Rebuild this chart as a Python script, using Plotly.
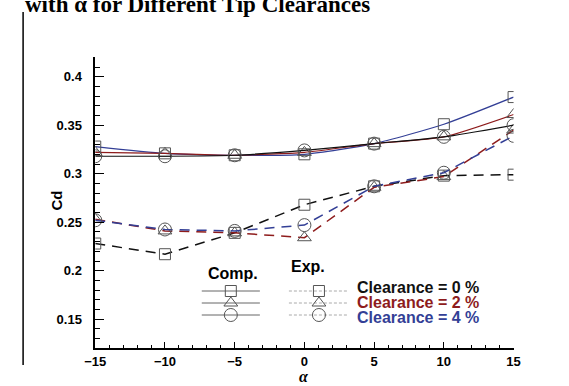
import plotly.graph_objects as go

# Angle of attack (deg)
alpha = [-15, -10, -5, 0, 5, 10, 15]

# Computed drag coefficient, one series per tip clearance
comp_c0 = [0.318, 0.318, 0.319, 0.324, 0.331, 0.338, 0.350]
comp_c2 = [0.322, 0.321, 0.319, 0.322, 0.331, 0.338, 0.361]
comp_c4 = [0.328, 0.321, 0.319, 0.320, 0.331, 0.351, 0.379]

# Experimental drag coefficient
exp_c0 = [0.228, 0.217, 0.239, 0.268, 0.287, 0.298, 0.299]
exp_c2 = [0.253, 0.241, 0.239, 0.234, 0.286, 0.297, 0.345]
exp_c4 = [0.252, 0.2425, 0.241, 0.247, 0.287, 0.301, 0.339]

x_ticks = [-15, -10, -5, 0, 5, 10, 15]
y_ticks = [0.15, 0.2, 0.25, 0.3, 0.35, 0.4]

legend_texts = ["Clearance = 0 %", "Clearance = 2 %", "Clearance = 4 %"]

W, H = 569, 386
BLACK = "#111111"
RED = "#8e1c1c"
BLUE = "#333f96"
MARK = "#555555"
SANS = "Liberation Sans, Arial, sans-serif"
SERIF = "Liberation Serif, Times New Roman, serif"

fig = go.Figure()


def add_series(y, color, symbol, dashed, size):
    fig.add_trace(go.Scatter(
        x=alpha, y=y, mode="lines+markers",
        line=dict(color=color, width=1.5 if dashed else 1.2,
                  dash="10px,7px" if dashed else "solid",
                  shape="linear" if dashed else "spline", smoothing=0.6),
        marker=dict(symbol=symbol, size=size, color=MARK,
                    line=dict(color=MARK, width=1)),
        showlegend=False, hoverinfo="x+y",
    ))


add_series(exp_c0, BLACK, "square-open", True, 11)
add_series(exp_c2, RED, "triangle-up-open", True, 12)
add_series(exp_c4, BLUE, "circle-open", True, 13)
add_series(comp_c4, BLUE, "square-open", False, 11)
add_series(comp_c2, RED, "triangle-up-open", False, 12)
add_series(comp_c0, BLACK, "circle-open", False, 13)

# Legend key drawn in a pixel-space overlay
key_rows = [291, 303, 315]
key_syms = ["square-open", "triangle-up-open", "circle-open"]
key_sizes = [11, 12, 13]
for yy, sym, sz in zip(key_rows, key_syms, key_sizes):
    fig.add_trace(go.Scatter(
        x=[197, 257], y=[yy, yy], xaxis="x2", yaxis="y2", mode="lines",
        line=dict(color="#666666", width=1), showlegend=False, hoverinfo="skip"))
    fig.add_trace(go.Scatter(
        x=[287, 347], y=[yy, yy], xaxis="x2", yaxis="y2", mode="lines",
        line=dict(color="#aaaaaa", width=1, dash="3px,2px"), showlegend=False,
        hoverinfo="skip"))
    fig.add_trace(go.Scatter(
        x=[227, 318], y=[yy, yy], xaxis="x2", yaxis="y2", mode="markers",
        marker=dict(symbol=sym, size=sz, color=MARK, line=dict(color=MARK, width=1)),
        showlegend=False, hoverinfo="skip"))

annotations = [
    dict(text="<b>with α for Different Tip Clearances</b>", x=12, y=4, xref="x2", yref="y2",
         xanchor="left", yanchor="middle", showarrow=False,
         font=dict(family=SERIF, size=23, color="black")),
    dict(text="<b>Cd</b>", x=46, y=201, xref="x2", yref="y2", textangle=-90,
         showarrow=False, font=dict(family=SANS, size=15, color="black")),
    dict(text="<b><i>α</i></b>", x=303, y=376, xref="x2", yref="y2",
         showarrow=False, font=dict(family=SERIF, size=16, color="black")),
    dict(text="<b>Comp.</b>", x=229, y=273, xref="x2", yref="y2",
         showarrow=False, font=dict(family=SANS, size=16, color="black")),
    dict(text="<b>Exp.</b>", x=307, y=266, xref="x2", yref="y2",
         showarrow=False, font=dict(family=SANS, size=16, color="black")),
]
for txt, yy, col in zip(legend_texts, [287, 302, 317], [BLACK, RED, BLUE]):
    annotations.append(dict(text="<b>" + txt + "</b>", x=355, y=yy, xref="x2", yref="y2",
                            xanchor="left", showarrow=False,
                            font=dict(family=SANS, size=16, color=col)))

x0, x1 = 87 / W, 519 / W
y0, y1 = 1 - 348.3 / H, 1 - 57.3 / H

fig.update_layout(
    width=W, height=H, margin=dict(l=0, r=0, t=0, b=0, pad=0),
    paper_bgcolor="white", plot_bgcolor="rgba(0,0,0,0)",
    xaxis=dict(domain=[x0, x1], range=[-15, 15], tickvals=x_ticks,
               showline=True, linecolor="black", linewidth=1.5, showgrid=False,
               zeroline=False, ticks="inside", ticklen=7, tickwidth=1.3, tickcolor="black",
               minor=dict(dtick=1, ticks="inside", ticklen=4, tickwidth=1, tickcolor="black"),
               tickfont=dict(family=SANS, size=13, color="black", weight="bold"),
               anchor="y", fixedrange=True),
    yaxis=dict(domain=[y0, y1], range=[0.12, 0.42], tickvals=y_ticks,
               ticktext=[f"{v:g}" for v in y_ticks],
               showline=True, linecolor="black", linewidth=1.5, showgrid=False,
               zeroline=False, ticks="inside", ticklen=9, tickwidth=1.3, tickcolor="black",
               minor=dict(dtick=0.01, ticks="inside", ticklen=5, tickwidth=1, tickcolor="black"),
               tickfont=dict(family=SANS, size=13, color="black", weight="bold"),
               ticklabelstandoff=9, anchor="x", fixedrange=True),
    xaxis2=dict(domain=[0, 1], range=[0, W], visible=False, anchor="y2", fixedrange=True),
    yaxis2=dict(domain=[0, 1], range=[H, 0], visible=False, anchor="x2", fixedrange=True),
    annotations=annotations,
    shapes=[dict(type="line", xref="x2", yref="y2", x0=12.5, x1=12.5, y0=12, y1=365,
                 line=dict(color="black", width=1.5))],
)

fig.write_html("out.html")
